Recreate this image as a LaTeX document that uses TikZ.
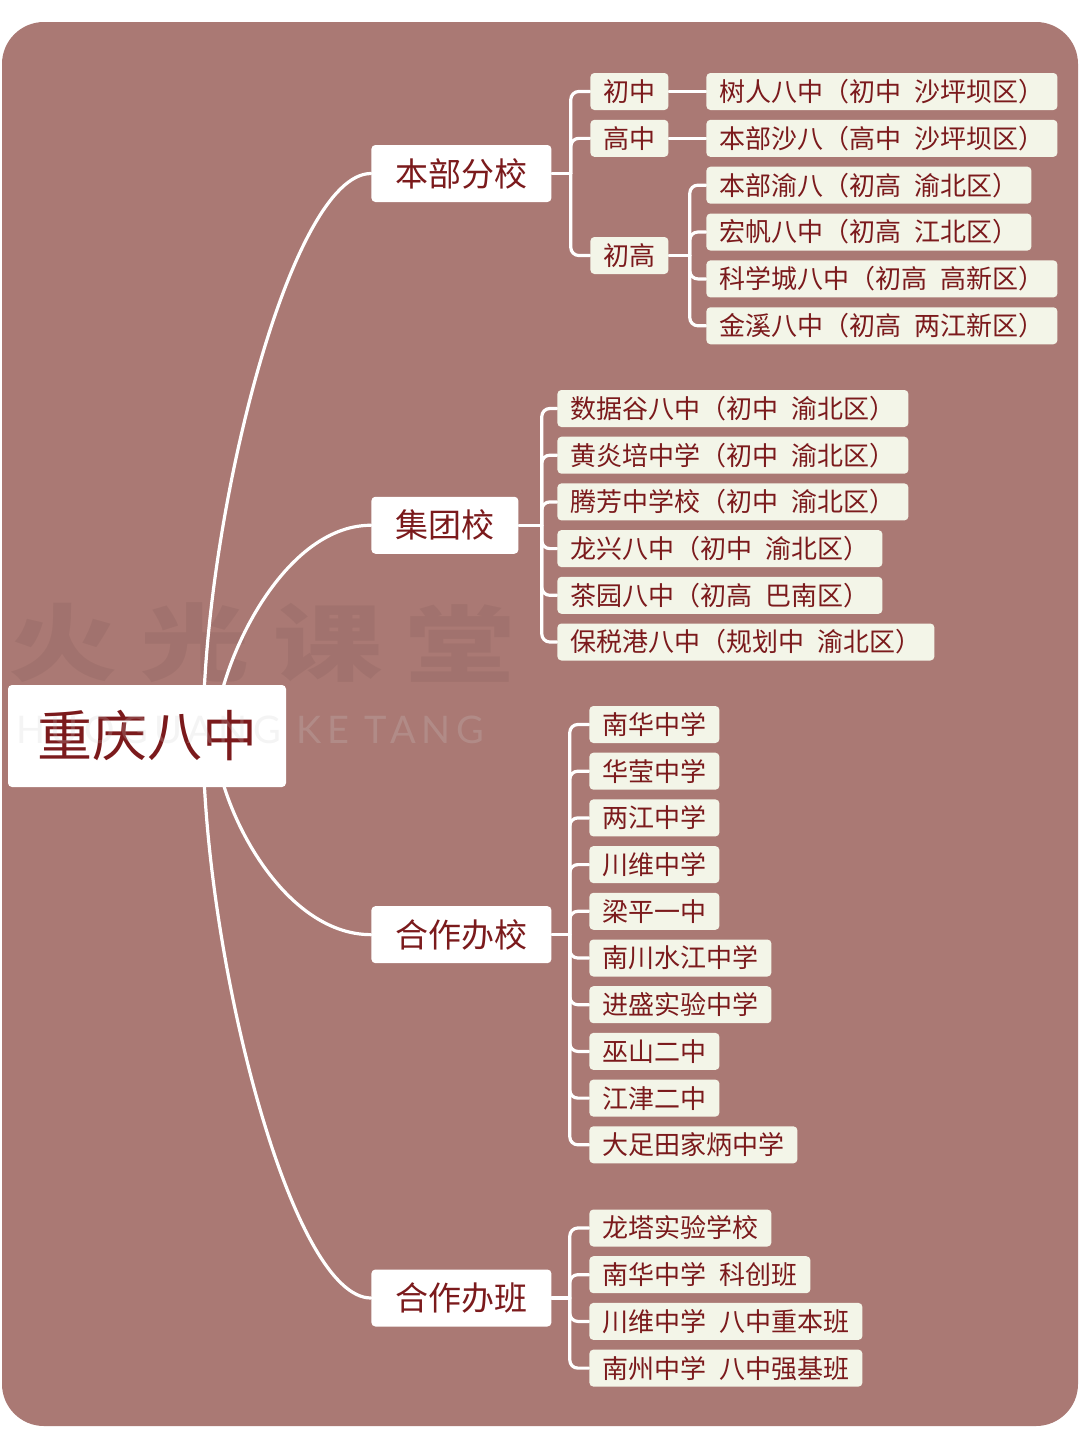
\documentclass[tikz,border=0pt]{standalone}
\usepackage{fontspec}
\newfontfamily\cjk{Noto Sans CJK SC}
\newfontfamily\wmlat{Lato}[LetterSpace=15]
\usetikzlibrary{calc,backgrounds}
\definecolor{bgrose}{RGB}{170,121,116}
\definecolor{cream}{RGB}{243,245,232}
\definecolor{ink}{RGB}{123,26,28}
\definecolor{wmgray}{RGB}{205,205,205}
\newcommand{\sgap}{\hspace{0.5em}}
\begin{document}
\begin{tikzpicture}[x=0.5pt,y=-0.5pt,
  link/.style={draw=white, line width=1.6pt, line cap=round},
  elbow/.style={link, rounded corners=4pt},
  leafbox/.style={fill=cream, rounded corners=2pt, font=\cjk\fontsize{13}{13}\selectfont, text=ink, inner xsep=6.5pt, inner ysep=0pt, minimum height=18.5pt, anchor=west},
  l1box/.style={fill=white, rounded corners=2pt, font=\cjk\fontsize{16.5}{16.5}\selectfont, text=ink, inner xsep=12pt, inner ysep=0pt, minimum height=28.5pt, anchor=west},
  rootbox/.style={fill=white, rounded corners=2pt, font=\cjk\fontsize{27.5}{27.5}\selectfont, text=ink, minimum width=139pt, minimum height=51pt, inner sep=0pt},
  wmbig/.style={font=\cjk\bfseries\fontsize{42}{42}\selectfont, text=black, text opacity=0.05, inner sep=0pt},
  wmsmall/.style={font=\wmlat\fontsize{19}{19}\selectfont, text=wmgray, text opacity=0.22, inner sep=0pt}
]
\useasboundingbox (0,0) rectangle (1080,1440);

% root and level 1
\node[rootbox] (root) at (147,736) {重庆八中};
\node[l1box] (L1a) at (371,173.5) {本部分校};
\node[l1box] (L1b) at (371,525.25) {集团校};
\node[l1box] (L1c) at (371,934.65) {合作办校};
\node[l1box] (L1d) at (371,1298) {合作办班};

% 本部分校
\node[leafbox] (a1) at (590,91.5) {初中};
\node[leafbox] (a2) at (590,138.35) {高中};
\node[leafbox] (a3) at (590,255.5) {初高};
\node[leafbox] (a1x) at (706,91.5) {树人八中（初中\sgap 沙坪坝区）};
\node[leafbox] (a2x) at (706,138.35) {本部沙八（高中\sgap 沙坪坝区）};
\node[leafbox] (a31) at (706,185.2) {本部渝八（初高\sgap 渝北区）};
\node[leafbox] (a32) at (706,232.05) {宏帆八中（初高\sgap 江北区）};
\node[leafbox] (a33) at (706,278.9) {科学城八中（初高\sgap 高新区）};
\node[leafbox] (a34) at (706,325.75) {金溪八中（初高\sgap 两江新区）};

% 集团校
\node[leafbox] (b1) at (557,408.5) {数据谷八中（初中\sgap 渝北区）};
\node[leafbox] (b2) at (557,455.2) {黄炎培中学（初中\sgap 渝北区）};
\node[leafbox] (b3) at (557,501.9) {腾芳中学校（初中\sgap 渝北区）};
\node[leafbox] (b4) at (557,548.6) {龙兴八中（初中\sgap 渝北区）};
\node[leafbox] (b5) at (557,595.3) {茶园八中（初高\sgap 巴南区）};
\node[leafbox] (b6) at (557,642) {保税港八中（规划中\sgap 渝北区）};

% 合作办校
\node[leafbox] (c1) at (589,724.5) {南华中学};
\node[leafbox] (c2) at (589,771.2) {华莹中学};
\node[leafbox] (c3) at (589,817.9) {两江中学};
\node[leafbox] (c4) at (589,864.6) {川维中学};
\node[leafbox] (c5) at (589,911.3) {梁平一中};
\node[leafbox] (c6) at (589,958) {南川水江中学};
\node[leafbox] (c7) at (589,1004.7) {进盛实验中学};
\node[leafbox] (c8) at (589,1051.4) {巫山二中};
\node[leafbox] (c9) at (589,1098.1) {江津二中};
\node[leafbox] (c10) at (589,1144.8) {大足田家炳中学};

% 合作办班
\node[leafbox] (d1) at (589,1228) {龙塔实验学校};
\node[leafbox] (d2) at (589,1274.7) {南华中学\sgap 科创班};
\node[leafbox] (d3) at (589,1321.4) {川维中学\sgap 八中重本班};
\node[leafbox] (d4) at (589,1368.1) {南州中学\sgap 八中强基班};

% watermark (latin, on top)
\node[wmsmall] (wm5) at (250,730) {HUOGUANG KE TANG};

\begin{pgfonlayer}{background}
  \fill[bgrose, rounded corners=21pt] (2,22) rectangle (1078,1426);
  \node[wmbig] (wm1) at (63,643) {\scalebox{1.3}[1]{火}};
  \node[wmbig] (wm2) at (195.5,643) {\scalebox{1.3}[1]{光}};
  \node[wmbig] (wm3) at (328,643) {\scalebox{1.3}[1]{课}};
  \node[wmbig] (wm4) at (460.5,643) {\scalebox{1.3}[1]{堂}};

  \coordinate (hubo) at (203,736);
  \coordinate (hubi) at (215,736);
  \draw[link] (hubo) .. controls (203,522) and (290,173.5) .. (L1a.west);
  \draw[link] (hubi) .. controls (215,672) and (280,525.25) .. (L1b.west);
  \draw[link] (hubi) .. controls (215,800) and (280,934.65) .. (L1c.west);
  \draw[link] (hubo) .. controls (203,950) and (290,1298) .. (L1d.west);

  \coordinate (ja) at ([xshift=9.5pt]L1a.east);
  \coordinate (jb) at ([xshift=11.5pt]L1b.east);
  \coordinate (jc) at ([xshift=9pt]L1c.east);
  \coordinate (jd) at ([xshift=9pt]L1d.east);
  \coordinate (j3) at ([xshift=10.5pt]a3.east);

  \draw[link] (L1a.east) -- (ja);
  \foreach \c in {a1,a2,a3} \draw[elbow] (ja) |- (\c.west);
  \draw[link] (a1.east) -- (a1x.west);
  \draw[link] (a2.east) -- (a2x.west);
  \draw[link] (a3.east) -- (j3);
  \foreach \c in {a31,a32,a33,a34} \draw[elbow] (j3) |- (\c.west);

  \draw[link] (L1b.east) -- (jb);
  \foreach \c in {b1,b2,b3,b4,b5,b6} \draw[elbow] (jb) |- (\c.west);

  \draw[link] (L1c.east) -- (jc);
  \foreach \c in {c1,c2,c3,c4,c5,c6,c7,c8,c9,c10} \draw[elbow] (jc) |- (\c.west);

  \draw[link] (L1d.east) -- (jd);
  \foreach \c in {d1,d2,d3,d4} \draw[elbow] (jd) |- (\c.west);
\end{pgfonlayer}
\end{tikzpicture}
\end{document}
